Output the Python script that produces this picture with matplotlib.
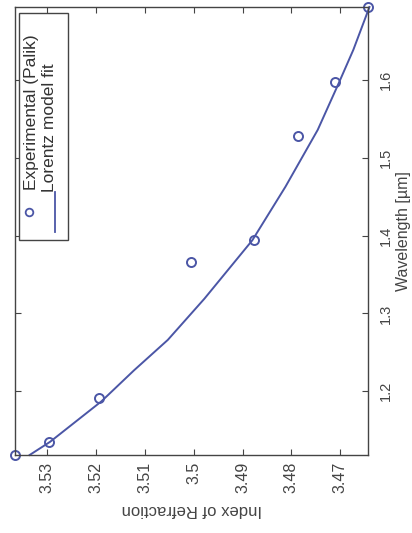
import matplotlib
matplotlib.use('Agg')
import matplotlib.pyplot as plt
from matplotlib.patches import Rectangle

plt.rcParams['font.family'] = ['Liberation Sans', 'DejaVu Sans']

# measured points (Palik)
wl_exp = [1.118, 1.135, 1.191, 1.366, 1.394, 1.528, 1.597, 1.694]
n_exp = [3.5366, 3.5296, 3.5194, 3.5006, 3.4876, 3.4786, 3.4711, 3.4643]

# Lorentz fit
wl_fit = [1.118, 1.135, 1.187, 1.227, 1.266, 1.319, 1.394, 1.463, 1.536, 1.596, 1.639, 1.694]
n_fit = [3.5336, 3.5294, 3.5189, 3.5122, 3.5053, 3.4978, 3.4880, 3.4812, 3.4746, 3.4703, 3.4673, 3.4640]

n_ticks = [3.53, 3.52, 3.51, 3.50, 3.49, 3.48, 3.47]
n_ticklabels = ['3.53', '3.52', '3.51', '3.5', '3.49', '3.48', '3.47']
wl_ticks = [1.2, 1.3, 1.4, 1.5, 1.6]
wl_ticklabels = ['1.2', '1.3', '1.4', '1.5', '1.6']

blue = '#4b56a6'
grey = '#444444'

fig = plt.figure(figsize=(4.12, 5.33), dpi=100)
ax = fig.add_axes([15/412, 1 - 455/533, 353/412, 448/533])

ax.plot(n_fit, wl_fit, color=blue, lw=1.4, clip_on=False)
ax.plot(n_exp, wl_exp, 'o', mfc='none', mec=blue, mew=1.4, ms=6.5, clip_on=False)

ax.set_xlim(max(n_exp), min(n_exp))
ax.set_ylim(min(wl_exp), max(wl_exp))

ax.set_xticks(n_ticks)
ax.set_xticklabels(n_ticklabels, rotation=90, fontsize=11.5, color=grey)
ax.set_yticks(wl_ticks)
ax.set_yticklabels(wl_ticklabels, rotation=90, fontsize=10.5, color=grey, va='center')
ax.yaxis.tick_right()
ax.tick_params(axis='both', direction='in', length=4, width=0.8, colors=grey,
               top=True, bottom=True, left=True, right=True)
ax.tick_params(axis='x', pad=5)
ax.tick_params(axis='y', pad=8)
for sp in ax.spines.values():
    sp.set_color(grey)
    sp.set_linewidth(1.0)

ax.set_xlabel('Index of Refraction', rotation=180, fontsize=12, color=grey, labelpad=6)
ax.yaxis.set_label_position('right')
ax.set_ylabel('Wavelength [µm]', rotation=90, fontsize=11.5, color=grey, labelpad=2)

# legend box, rotated like the rest of the figure
ax.add_patch(Rectangle((0.0113, 0.48), 0.1387, 0.507, transform=ax.transAxes,
                       fill=True, fc='white', ec=grey, lw=1.0, zorder=5))
ax.plot([0.0397], [0.542], 'o', mfc='none', mec=blue, mew=1.3, ms=5.5,
        transform=ax.transAxes, zorder=6)
ax.plot([0.1133, 0.1133], [0.498, 0.587], color=blue, lw=1.3,
        transform=ax.transAxes, zorder=6)
ax.text(0.0473, 0.5915, 'Experimental (Palik)', rotation=90, ha='center', va='bottom',
        fontsize=12.5, color='#333333', transform=ax.transAxes, zorder=6)
ax.text(0.099, 0.587, 'Lorentz model fit', rotation=90, ha='center', va='bottom',
        fontsize=12.5, color='#333333', transform=ax.transAxes, zorder=6)

fig.savefig('out.png', dpi=100)
